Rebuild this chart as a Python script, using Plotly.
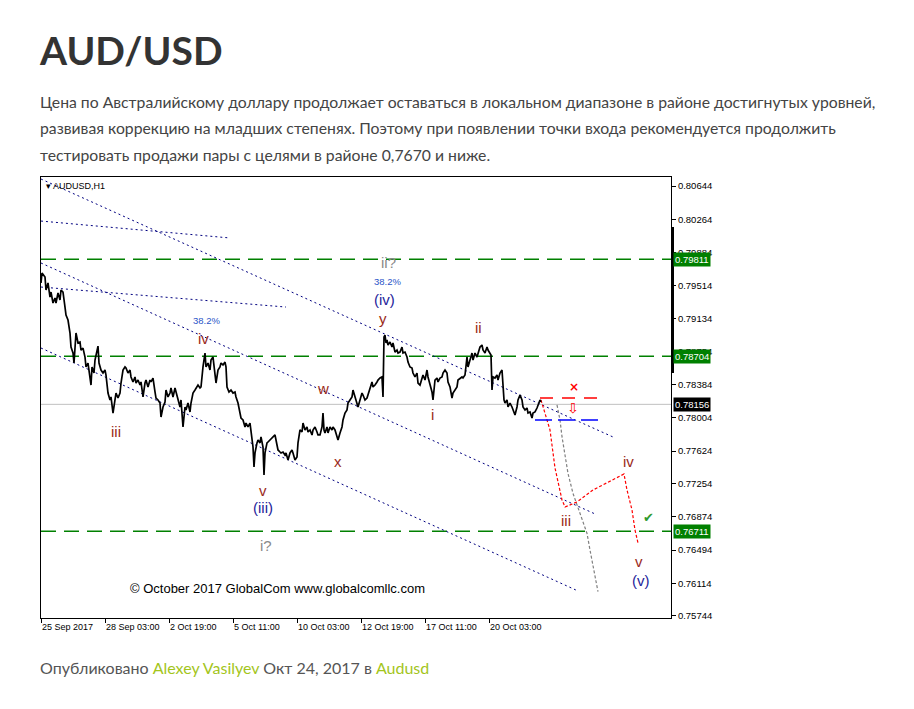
import plotly.graph_objects as go

# ---------------- data ----------------
# H1 bar number (0 = first bar on the chart) and close price
h1_closes = [
    (0, 0.79539), (1, 0.79653), (4, 0.79607), (5, 0.79459), (7, 0.79539), (9, 0.79379),
    (10, 0.79436), (12, 0.79311), (14, 0.79368), (15, 0.79311), (17, 0.79425), (19, 0.79345),
    (20, 0.79459), (22, 0.79436), (24, 0.79265), (25, 0.79174), (27, 0.79117), (29, 0.78969),
    (30, 0.78809), (32, 0.78741), (33, 0.78627), (34, 0.78855), (35, 0.78969), (37, 0.78855),
    (39, 0.78866), (40, 0.78775), (42, 0.78797), (44, 0.78695), (45, 0.78582), (47, 0.78627),
    (49, 0.78490), (50, 0.78376), (51, 0.78582), (53, 0.78513), (54, 0.78661), (57, 0.78820),
    (58, 0.78627), (60, 0.78547), (62, 0.78513), (64, 0.78547), (65, 0.78490), (67, 0.78285),
    (69, 0.78206), (70, 0.78240), (72, 0.78057), (74, 0.78206), (75, 0.78285), (77, 0.78228),
    (79, 0.78285), (80, 0.78399), (82, 0.78547), (84, 0.78582), (85, 0.78570), (87, 0.78513),
    (89, 0.78547), (90, 0.78468), (92, 0.78411), (94, 0.78468), (95, 0.78399), (97, 0.78433),
    (99, 0.78376), (100, 0.78411), (102, 0.78240), (104, 0.78399), (105, 0.78433), (107, 0.78354),
    (109, 0.78433), (110, 0.78411), (112, 0.78456), (114, 0.78297), (115, 0.78228), (117, 0.78206),
    (119, 0.78171), (120, 0.78012), (122, 0.78126), (124, 0.78183), (125, 0.78319), (127, 0.78240),
    (129, 0.78285), (130, 0.78342), (132, 0.78240), (134, 0.78342), (135, 0.78297), (137, 0.78206),
    (139, 0.78126), (140, 0.78206), (142, 0.77898), (144, 0.78126), (145, 0.78092), (147, 0.78171),
    (149, 0.78069), (150, 0.78171), (152, 0.78285), (154, 0.78319), (155, 0.78342), (157, 0.78376),
    (159, 0.78342), (160, 0.78354), (162, 0.78582), (164, 0.78741), (165, 0.78582), (167, 0.78627),
    (169, 0.78547), (170, 0.78661), (172, 0.78695), (174, 0.78513), (175, 0.78399), (177, 0.78547),
    (179, 0.78582), (180, 0.78627), (182, 0.78604), (184, 0.78638), (185, 0.78582), (186, 0.78354),
    (188, 0.78297), (190, 0.78319), (192, 0.78285), (194, 0.78297), (195, 0.78240), (197, 0.78171),
    (199, 0.78057), (200, 0.78000), (202, 0.77978), (204, 0.77898), (205, 0.77943), (207, 0.77898),
    (209, 0.77943), (210, 0.77830), (212, 0.77670), (213, 0.77442), (214, 0.77602), (216, 0.77716),
    (217, 0.77750), (219, 0.77716), (220, 0.77784), (222, 0.77670), (223, 0.77351), (224, 0.77602),
    (226, 0.77716), (227, 0.77727), (229, 0.77750), (230, 0.77773), (232, 0.77784), (234, 0.77807),
    (235, 0.77750), (237, 0.77636), (239, 0.77613), (240, 0.77602), (242, 0.77613), (244, 0.77579),
    (245, 0.77602), (247, 0.77522), (249, 0.77602), (251, 0.77636), (252, 0.77602), (254, 0.77522),
    (256, 0.77556), (257, 0.77716), (259, 0.77864), (261, 0.77841), (262, 0.77943), (264, 0.77864),
    (266, 0.77898), (267, 0.77841), (269, 0.77864), (271, 0.77807), (272, 0.77864), (274, 0.77898),
    (276, 0.77841), (277, 0.77807), (279, 0.77807), (281, 0.77898), (282, 0.78057), (283, 0.77864),
    (284, 0.77830), (286, 0.77898), (287, 0.77830), (289, 0.77898), (291, 0.77864), (292, 0.77898),
    (294, 0.77864), (296, 0.77784), (297, 0.77750), (299, 0.77830), (301, 0.77898), (302, 0.77978),
    (304, 0.78057), (306, 0.78092), (307, 0.78171), (309, 0.78206), (311, 0.78240), (312, 0.78319),
    (314, 0.78240), (316, 0.78183), (317, 0.78126), (319, 0.78206), (321, 0.78285), (322, 0.78262),
    (324, 0.78206), (326, 0.78228), (327, 0.78262), (329, 0.78354), (331, 0.78411), (332, 0.78354),
    (334, 0.78376), (336, 0.78411), (337, 0.78433), (339, 0.78456), (341, 0.78468), (342, 0.78240),
    (343, 0.78923), (344, 0.78946), (345, 0.78855), (346, 0.78889), (347, 0.78832), (349, 0.78866),
    (351, 0.78809), (352, 0.78855), (354, 0.78752), (356, 0.78775), (357, 0.78741), (359, 0.78752),
    (361, 0.78809), (362, 0.78741), (364, 0.78752), (366, 0.78695), (367, 0.78638), (369, 0.78582),
    (371, 0.78570), (372, 0.78513), (374, 0.78468), (376, 0.78513), (377, 0.78399), (379, 0.78376),
    (381, 0.78468), (382, 0.78490), (384, 0.78433), (386, 0.78547), (387, 0.78468), (389, 0.78376),
    (391, 0.78297), (392, 0.78206), (393, 0.78354), (394, 0.78433), (396, 0.78456), (397, 0.78411),
    (399, 0.78456), (401, 0.78468), (402, 0.78513), (404, 0.78547), (406, 0.78513), (407, 0.78411),
    (409, 0.78354), (411, 0.78228), (412, 0.78285), (414, 0.78319), (416, 0.78354), (417, 0.78433),
    (419, 0.78456), (421, 0.78468), (422, 0.78456), (424, 0.78490), (426, 0.78695), (427, 0.78582),
    (429, 0.78661), (431, 0.78741), (432, 0.78661), (434, 0.78741), (436, 0.78695), (437, 0.78741),
    (439, 0.78809), (441, 0.78832), (442, 0.78775), (444, 0.78741), (446, 0.78809), (447, 0.78775),
    (449, 0.78741), (450, 0.78718), (451, 0.78319), (452, 0.78468), (454, 0.78456), (456, 0.78490),
    (457, 0.78433), (459, 0.78513), (461, 0.78547), (462, 0.78354), (463, 0.78206), (464, 0.78171),
    (466, 0.78206), (467, 0.78126), (469, 0.78171), (471, 0.78126), (472, 0.78092), (474, 0.78035),
    (476, 0.78126), (477, 0.78206), (479, 0.78262), (481, 0.78206), (482, 0.78126), (484, 0.78092),
    (486, 0.78114), (487, 0.78057), (489, 0.78069), (491, 0.78000), (492, 0.78057), (494, 0.78069),
    (496, 0.78114), (497, 0.78149), (499, 0.78206), (500, 0.78183),
]
bars = [b for b, _ in h1_closes]
closes = [c for _, c in h1_closes]

y_tick_values = [0.80644, 0.80264, 0.79884, 0.79514, 0.79134, 0.78754, 0.78384,
                 0.78004, 0.77624, 0.77254, 0.76874, 0.76494, 0.76114, 0.75744]
y_tick_labels = ["%.5f" % v for v in y_tick_values]
x_tick_bars = [0, 64, 128, 192, 256, 320, 384, 448]
x_tick_labels = ["25 Sep 2017", "28 Sep 03:00", "2 Oct 19:00", "5 Oct 11:00",
                 "10 Oct 03:00", "12 Oct 19:00", "17 Oct 11:00", "20 Oct 03:00"]

level_prices = [0.79811, 0.78704, 0.76711]
bid_price = 0.78156

# drawn trend lines: (bar start, price start, bar end, price end)
channel_lines = [(0, 0.80724, 572, 0.77784), (0, 0.79767, 554, 0.76907), (0, 0.78798, 537, 0.76029)]
fan_lines = [(0, 0.80245, 189, 0.80052), (0, 0.79493, 245, 0.79265)]
stop_line = (499, 559, 0.78228)
entry_line = (494, 560, 0.77978)

forecast_bars = [500, 509, 514, 519, 521, 524, 536, 552, 572, 583, 586, 591, 594, 597]
forecast_prices = [0.78206, 0.77864, 0.77431, 0.77180, 0.77066, 0.76986, 0.77043,
                   0.77180, 0.77294, 0.77362, 0.77180, 0.76952, 0.76724, 0.76576]
alt_bars = [516, 519, 521, 524, 527, 532, 539, 546, 549, 552, 557]
alt_prices = [0.78149, 0.77978, 0.77787, 0.77559, 0.77369, 0.77141, 0.76913,
              0.76686, 0.76496, 0.76306, 0.76021]

minor_wave_text = ["iv", "iii", "v", "w", "x", "y", "ii", "i", "iii", "iv", "v"]
minor_wave_bar = [162, 75, 222, 282, 297, 342, 437, 391, 525, 587, 598]
minor_wave_price = [0.78912, 0.77841, 0.77169, 0.78342, 0.77499, 0.79140, 0.79037, 0.78035, 0.76827, 0.77499, 0.76360]
major_wave_text = ["(iii)", "(iv)", "(v)"]
major_wave_bar = [222, 343, 600]
major_wave_price = [0.76975, 0.79356, 0.76143]
query_wave_text = ["ii?", "i?"]
query_wave_bar = [347, 225]
query_wave_price = [0.79778, 0.76553]
fib_text = ["38.2%", "38.2%"]
fib_bar = [165, 346]
fib_price = [0.79117, 0.79560]

# ---------------- figure ----------------
PL, PR, PT, PB = 41, 671, 177, 618


def px(x):
    return (x - PL) / (PR - PL)


def py(y):
    return (PB - y) / (PB - PT)


fig = go.Figure()

for b0, p0, b1, p1 in channel_lines + fan_lines:
    fig.add_trace(go.Scatter(x=[b0, b1], y=[p0, p1], mode="lines",
                             line=dict(color="#000080", width=1, dash="2px,3px"), hoverinfo="skip"))

fig.add_trace(go.Scatter(x=alt_bars, y=alt_prices, mode="lines",
                         line=dict(color="#808080", width=1.2, dash="3px,2px"), hoverinfo="skip"))
fig.add_trace(go.Scatter(x=forecast_bars, y=forecast_prices, mode="lines",
                         line=dict(color="#ff0000", width=1.2, dash="3px,2px"), hoverinfo="skip"))

fig.add_trace(go.Scatter(x=[stop_line[0], stop_line[1]], y=[stop_line[2]] * 2, mode="lines",
                         line=dict(color="#ff0000", width=1.5, dash="13px,9px"), hoverinfo="skip"))
fig.add_trace(go.Scatter(x=[entry_line[0], entry_line[1]], y=[entry_line[2]] * 2, mode="lines",
                         line=dict(color="#0000ff", width=1.5, dash="17px,6px"), hoverinfo="skip"))

fig.add_trace(go.Scatter(x=bars, y=closes, mode="lines",
                         line=dict(color="#000000", width=1.7), name="AUDUSD,H1"))

shapes = []
for lv in level_prices:
    shapes.append(dict(type="line", xref="paper", yref="y", x0=0, x1=1, y0=lv, y1=lv,
                       line=dict(color="#008000", width=1.5, dash="15px,8px"), layer="below"))
shapes.append(dict(type="line", xref="paper", yref="y", x0=0, x1=1, y0=bid_price, y1=bid_price,
                   line=dict(color="#c0c0c0", width=1), layer="below"))
shapes.append(dict(type="line", xref="paper", yref="paper", x0=1 + 1.5 / 630, x1=1 + 1.5 / 630,
                   y0=py(227), y1=py(373), line=dict(color="#000000", width=3)))

ann = []
LAB = "Arial, Liberation Sans, sans-serif"
for t, b, p in zip(minor_wave_text, minor_wave_bar, minor_wave_price):
    ann.append(dict(text=t, x=b, y=p, xref="x", yref="y", showarrow=False,
                    font=dict(family=LAB, size=15, color="#9a2a1a")))
for t, b, p in zip(major_wave_text, major_wave_bar, major_wave_price):
    ann.append(dict(text=t, x=b, y=p, xref="x", yref="y", showarrow=False,
                    font=dict(family=LAB, size=15, color="#24249a")))
for t, b, p in zip(query_wave_text, query_wave_bar, query_wave_price):
    ann.append(dict(text=t, x=b, y=p, xref="x", yref="y", showarrow=False,
                    font=dict(family=LAB, size=15, color="#8a8a8a")))
for t, b, p in zip(fib_text, fib_bar, fib_price):
    ann.append(dict(text=t, x=b, y=p, xref="x", yref="y", showarrow=False,
                    font=dict(family=LAB, size=9.5, color="#2b55c8")))

ann.append(dict(text="✔", x=607, y=0.76861, xref="x", yref="y", showarrow=False,
                font=dict(family="DejaVu Sans", size=13, color="#2e9a2e")))
ann.append(dict(text="<b>×</b>", x=533, y=0.78354, xref="x", yref="y", showarrow=False,
                font=dict(family="DejaVu Sans", size=12, color="#ff0000")))
ann.append(dict(text="⇩", x=532, y=0.78114, xref="x", yref="y", showarrow=False,
                font=dict(family="DejaVu Sans", size=14, color="#ff0000")))
ann.append(dict(text="© October 2017 GlobalCom www.globalcomllc.com", x=236, y=0.76052,
                xref="x", yref="y", showarrow=False,
                font=dict(family=LAB, size=13, color="#000000")))
ann.append(dict(text="▾ AUDUSD,H1", x=px(44), y=py(186), xref="paper", yref="paper",
                xanchor="left", yanchor="middle", showarrow=False,
                font=dict(family=LAB, size=9, color="#000000")))

for lv in level_prices:
    ann.append(dict(text="%.5f" % lv, x=1, y=lv, xref="paper", yref="y", xanchor="left",
                    yanchor="middle", xshift=2, showarrow=False, bgcolor="#008000",
                    borderpad=1, font=dict(family=LAB, size=9.5, color="#ffffff")))
ann.append(dict(text="%.5f" % bid_price, x=1, y=bid_price, xref="paper", yref="y", xanchor="left",
                yanchor="middle", xshift=2, showarrow=False, bgcolor="#000000",
                borderpad=1, font=dict(family=LAB, size=9.5, color="#ffffff")))

# page text
PAGE = "Lato, 'Open Sans', sans-serif"
ann.append(dict(text="<b>AUD/USD</b>", x=px(37), y=py(50), xref="paper", yref="paper",
                xanchor="left", yanchor="middle", showarrow=False,
                font=dict(family=PAGE, size=39, color="#333333")))
para = ["Цена по Австралийскому доллару продолжает оставаться в локальном диапазоне в районе достигнутых уровней,",
        "развивая коррекцию на младших степенях. Поэтому при появлении точки входа рекомендуется продолжить",
        "тестировать продажи пары с целями в районе 0,7670 и ниже."]
for line, yy in zip(para, [101, 128, 154]):
    ann.append(dict(text=line, x=px(38), y=py(yy), xref="paper", yref="paper",
                    xanchor="left", yanchor="middle", showarrow=False,
                    font=dict(family=PAGE, size=15.75, color="#444444")))
GREEN = "#a3c51c"
footer = ("Опубликовано <span style='color:%s'>Alexey Vasilyev</span> Окт 24, 2017 в "
          "<span style='color:%s'>Audusd</span>") % (GREEN, GREEN)
ann.append(dict(text=footer, x=px(38), y=py(667), xref="paper", yref="paper",
                xanchor="left", yanchor="middle", showarrow=False,
                font=dict(family=PAGE, size=16, color="#555555")))

fig.update_layout(
    width=914, height=709,
    margin=dict(l=PL, r=914 - PR, t=PT, b=709 - PB, pad=0),
    paper_bgcolor="#ffffff", plot_bgcolor="#ffffff",
    showlegend=False,
    shapes=shapes, annotations=ann,
    xaxis=dict(range=[0, 630], showgrid=False, zeroline=False, showline=True, mirror=True,
               linecolor="#000000", linewidth=1, ticks="outside", ticklen=4, tickcolor="#000000",
               tickvals=x_tick_bars, ticktext=x_tick_labels, ticklabelposition="outside right",
               tickfont=dict(family=LAB, size=9, color="#000000")),
    yaxis=dict(range=[0.75721, 0.80747], side="right", showgrid=False, zeroline=False,
               showline=True, mirror=True, linecolor="#000000", linewidth=1,
               ticks="outside", ticklen=4, tickcolor="#000000",
               tickvals=y_tick_values, ticktext=y_tick_labels,
               tickfont=dict(family=LAB, size=9.5, color="#000000")),
)

fig.write_html("out.html", config={"displayModeBar": False},
               post_script="document.body.style.margin='0px';")
